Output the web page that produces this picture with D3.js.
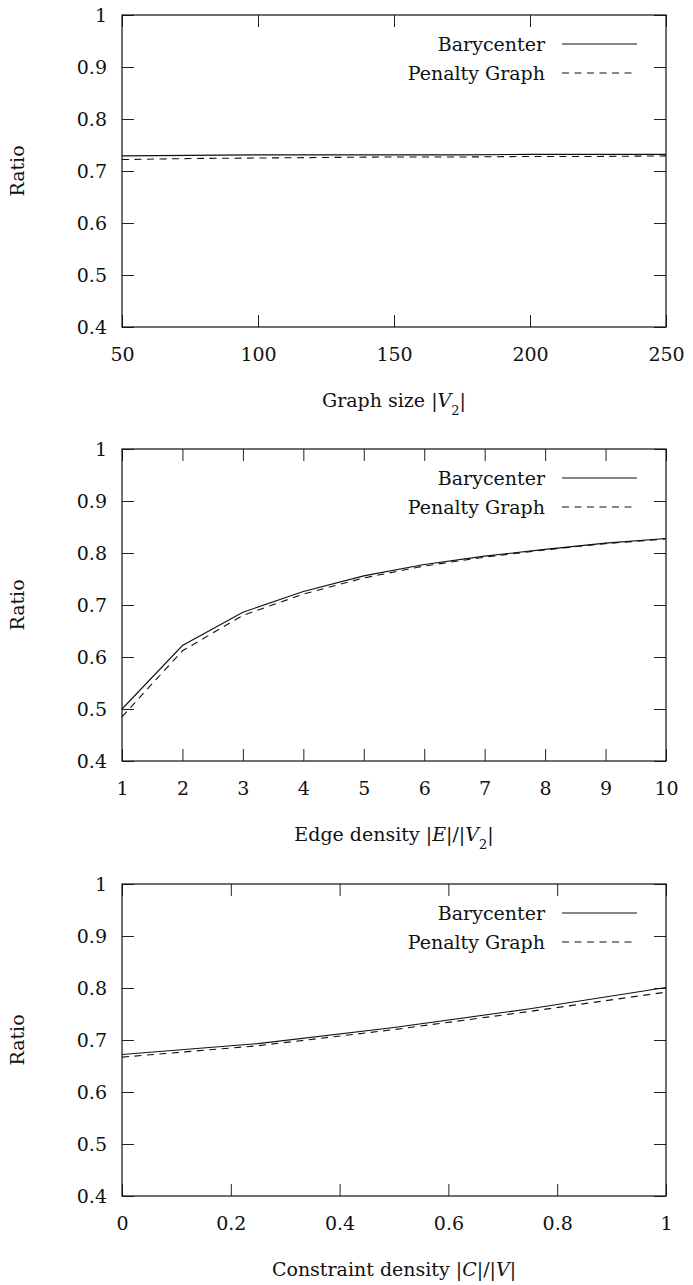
<!DOCTYPE html>
<html>
<head>
<meta charset="utf-8">
<script src="https://cdn.jsdelivr.net/npm/d3@7"></script>
<style>
body { margin: 0; background: #fff; }
text { font-family: "DejaVu Serif", serif; fill: #111; }
</style>
</head>
<body>
<script>
// values
var sizeX = [50, 75, 100, 125, 150, 175, 200, 225, 250];
var sizeBary = [0.729, 0.730, 0.731, 0.731, 0.731, 0.731, 0.732, 0.732, 0.732];
var sizePen = [0.722, 0.724, 0.725, 0.726, 0.727, 0.727, 0.728, 0.728, 0.729];

var edgeX = [1, 2, 3, 4, 5, 6, 7, 8, 9, 10];
var edgeBary = [0.500, 0.622, 0.686, 0.726, 0.756, 0.778, 0.794, 0.807, 0.819, 0.828];
var edgePen = [0.485, 0.612, 0.680, 0.721, 0.752, 0.775, 0.792, 0.806, 0.818, 0.827];

var consX = [0, 0.25, 0.5, 0.75, 1];
var consBary = [0.672, 0.693, 0.724, 0.760, 0.801];
var consPen = [0.667, 0.689, 0.720, 0.755, 0.792];

var yTicks = [0.4, 0.5, 0.6, 0.7, 0.8, 0.9, 1];
var sizeTicks = [50, 100, 150, 200, 250];
var edgeTicks = [1, 2, 3, 4, 5, 6, 7, 8, 9, 10];
var consTicks = [0, 0.2, 0.4, 0.6, 0.8, 1];
var seriesNames = ["Barycenter", "Penalty Graph"];

var W = 693, H = 1285;
var left = 122, right = 666, plotH = 312, tick = 12;
var fontSize = '19px', dash = '7,5.5';

var svg = d3.select('body').append('svg').attr('width', W).attr('height', H);

var drawPanel = function(top, xs, bary, pen, xTicks, xlabelParts) {
  var x = d3.scaleLinear().domain([xTicks[0], xTicks[xTicks.length - 1]]).range([left, right]);
  var y = d3.scaleLinear().domain([0.4, 1]).range([top + plotH, top]);
  var g = svg.append('g');

  var fmt = function(d) { return String(d); };
  // bottom + left axes with inward ticks, labels outside; top + right only ticks
  var xa = d3.axisBottom(x).tickValues(xTicks).tickSize(-tick).tickPadding(21).tickFormat(fmt);
  var ya = d3.axisLeft(y).tickValues(yTicks).tickSize(-tick).tickPadding(15).tickFormat(fmt);
  var xt = d3.axisTop(x).tickValues(xTicks).tickSize(-tick).tickFormat('');
  var yr = d3.axisRight(y).tickValues(yTicks).tickSize(-tick).tickFormat('');

  [[xa, 'translate(0,' + (top + plotH) + ')'], [ya, 'translate(' + left + ',0)'],
   [xt, 'translate(0,' + top + ')'], [yr, 'translate(' + right + ',0)']].forEach(function(a) {
    var ax = g.append('g').attr('transform', a[1]).call(a[0]);
    ax.select('.domain').remove();
    ax.selectAll('line').attr('stroke', '#222').attr('stroke-width', 1);
    ax.selectAll('text').style('font-family', '"DejaVu Serif", serif').style('font-size', fontSize).attr('fill', '#111');
  });

  g.append('rect').attr('x', left).attr('y', top).attr('width', right - left).attr('height', plotH)
    .attr('fill', 'none').attr('stroke', '#111').attr('stroke-width', 1.2);

  var line = d3.line().x(function(d) { return x(d[0]); }).y(function(d) { return y(d[1]); });
  g.append('path').datum(d3.zip(xs, bary)).attr('d', line)
    .attr('fill', 'none').attr('stroke', '#111').attr('stroke-width', 1.1);
  g.append('path').datum(d3.zip(xs, pen)).attr('d', line)
    .attr('fill', 'none').attr('stroke', '#111').attr('stroke-width', 1.1).attr('stroke-dasharray', dash);

  // legend
  var lx = 562, ly = top + 29;
  seriesNames.forEach(function(name, i) {
    var yy = ly + i * 29;
    g.append('text').attr('x', lx - 17).attr('y', yy).attr('dy', '0.35em').attr('text-anchor', 'end')
      .style('font-size', fontSize).text(name);
    g.append('line').attr('x1', lx).attr('x2', lx + 75).attr('y1', yy).attr('y2', yy)
      .attr('stroke', '#111').attr('stroke-width', 1.1).attr('stroke-dasharray', i ? dash : null);
  });

  // y label
  g.append('text').attr('transform', 'translate(17,' + (top + plotH / 2) + ') rotate(-90)')
    .attr('dy', '0.35em').attr('text-anchor', 'middle').style('font-size', fontSize).text('Ratio');

  // x label with italic / subscript parts
  var t = g.append('text').attr('x', (left + right) / 2).attr('y', top + plotH + 80)
    .attr('text-anchor', 'middle').style('font-size', fontSize);
  xlabelParts.forEach(function(p) {
    var s = t.append('tspan').text(p.t);
    if (p.i) s.style('font-style', 'italic');
    if (p.sub) s.attr('baseline-shift', 'sub').style('font-size', '13px');
  });
};

drawPanel(15, sizeX, sizeBary, sizePen, sizeTicks,
  [{t: 'Graph size |'}, {t: 'V', i: 1}, {t: '2', sub: 1}, {t: '|'}]);
drawPanel(449, edgeX, edgeBary, edgePen, edgeTicks,
  [{t: 'Edge density |'}, {t: 'E', i: 1}, {t: '|/|'}, {t: 'V', i: 1}, {t: '2', sub: 1}, {t: '|'}]);
drawPanel(884, consX, consBary, consPen, consTicks,
  [{t: 'Constraint density |'}, {t: 'C', i: 1}, {t: '|/|'}, {t: 'V', i: 1}, {t: '|'}]);
</script>
</body>
</html>
